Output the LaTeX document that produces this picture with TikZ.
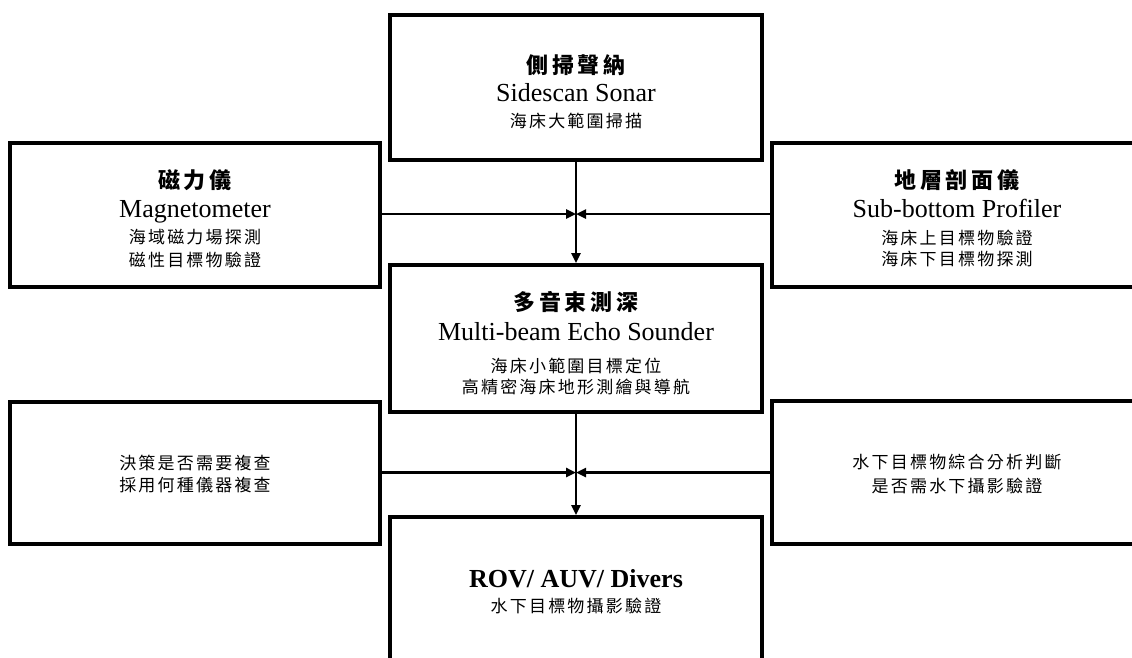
\documentclass[tikz,border=0pt]{standalone}
\usepackage{fontspec}
\setmainfont{Liberation Serif}
\newfontfamily\cjk{Noto Sans CJK TC}
\usetikzlibrary{arrows.meta}
\tikzset{
  box/.style={draw, line width=3.6pt, rectangle, inner sep=0pt},
  cjktitle/.style={inner sep=0pt, anchor=center, font=\fontsize{22}{26}\cjk\bfseries\addfontfeature{LetterSpace=16}},
  cjkline/.style={inner sep=0pt, anchor=center, font=\fontsize{17}{20}\cjk\addfontfeature{LetterSpace=13}},
  enline/.style={inner sep=0pt, anchor=base, font=\fontsize{26}{30}\selectfont},
  enbold/.style={inner sep=0pt, anchor=base, font=\fontsize{26}{30}\selectfont\bfseries},
  conn/.style={line width=2.4pt, -{Triangle[length=10pt,width=9pt]}}
}
\begin{document}
\begin{tikzpicture}[x=1pt,y=1pt]
\fill[white] (0,0) rectangle (1132,-657);
\clip (0,0) rectangle (1132,-657);
\useasboundingbox (0,0) rectangle (1132,-657);
% boxes
\node[box, minimum width=372pt, minimum height=145pt] (ss)  at (576,-87.5) {};
\node[box, minimum width=370pt, minimum height=144pt] (mag) at (195,-215) {};
\node[box, minimum width=370pt, minimum height=144pt] (sbp) at (957,-215) {};
\node[box, minimum width=372pt, minimum height=147pt] (mb)  at (576,-338.5) {};
\node[box, minimum width=370pt, minimum height=142pt] (dec) at (195,-473) {};
\node[box, minimum width=370pt, minimum height=143pt] (ana) at (957,-472.5) {};
\node[box, minimum width=372pt, minimum height=163pt] (rov) at (576,-598.5) {};
% texts: sidescan
\node[cjktitle] (t1a) at (576,-65.5) {側掃聲納};
\node[enline]   (t1b) at (576,-101) {Sidescan Sonar};
\node[cjkline]  (t1c) at (576,-120.5) {海床大範圍掃描};
% magnetometer
\node[cjktitle] (t2a) at (195,-180) {磁力儀};
\node[enline]   (t2b) at (195,-217) {Magnetometer};
\node[cjkline]  (t2c) at (195,-237.5) {海域磁力場探測};
\node[cjkline]  (t2d) at (195,-259.5) {磁性目標物驗證};
% sub-bottom profiler
\node[cjktitle] (t3a) at (957,-180) {地層剖面儀};
\node[enline]   (t3b) at (957,-217) {Sub-bottom Profiler};
\node[cjkline]  (t3c) at (957,-237.5) {海床上目標物驗證};
\node[cjkline]  (t3d) at (957,-259.5) {海床下目標物探測};
% multibeam
\node[cjktitle] (t4a) at (576,-302.5) {多音束測深};
\node[enline]   (t4b) at (576,-340) {Multi-beam Echo Sounder};
\node[cjkline]  (t4c) at (576,-365.5) {海床小範圍目標定位};
\node[cjkline]  (t4d) at (576,-387) {高精密海床地形測繪與導航};
% decision
\node[cjkline]  (t5a) at (195,-462.5) {決策是否需要複查};
\node[cjkline]  (t5b) at (195,-485.5) {採用何種儀器複查};
% analysis
\node[cjkline]  (t6a) at (957,-462.5) {水下目標物綜合分析判斷};
\node[cjkline]  (t6b) at (957,-485.5) {是否需水下攝影驗證};
% ROV
\node[enbold]   (t7a) at (576,-587) {ROV/ AUV/ Divers};
\node[cjkline]  (t7b) at (576,-605.5) {水下目標物攝影驗證};
% connectors
\coordinate (j1) at (576,-214);
\coordinate (j2) at (576,-472.5);
\draw[conn] (ss.south) -- (mb.north);
\draw[conn] (mag.east |- j1) -- (j1);
\draw[conn] (sbp.west |- j1) -- (j1);
\draw[conn] (mb.south) -- (rov.north);
\draw[conn] (dec.east |- j2) -- (j2);
\draw[conn] (ana.west |- j2) -- (j2);
\end{tikzpicture}
\end{document}
